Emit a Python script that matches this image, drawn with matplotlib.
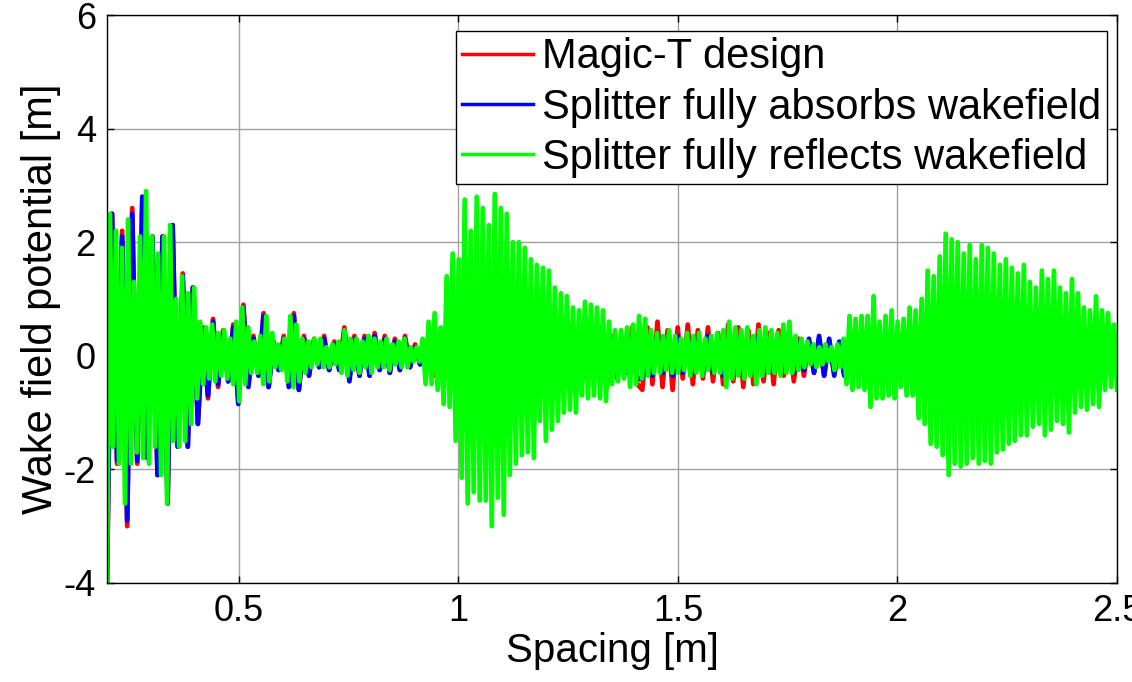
#!/usr/bin/env python3
# -*- coding: utf-8 -*-

import numpy as np
import matplotlib
matplotlib.use('Agg')
import matplotlib.pyplot as plt

params = {'font.family': ['Liberation Sans', 'DejaVu Sans'],
          'font.size': 26,
          'axes.unicode_minus': False,
          'xtick.direction': 'in',
          'ytick.direction': 'in',
          'xtick.top': True,
          'ytick.right': True}
plt.rcParams.update(params)

# Wake potential extrema along the spacing axis (start 0.2 m, end 2.5 m)
x_start, x_end = 0.2, 2.5

magic_t = [
    -4.0, 2.5, -1.9, 2.2, -3.0, 2.6, -1.9, 2.8, -1.8, 2.1, -2.1, 2.1, -2.6, 2.3, -1.6, 1.45,
    -1.6, 1.2, -1.2, 0.5, -0.75, 0.65,
    -0.55, 0.45, -0.45, 0.55, -0.8, 0.9, -0.5, 0.35, -0.35, 0.75, -0.55, 0.25, -0.25, 0.35,
    -0.5, 0.75, -0.6, 0.35, -0.35, 0.3, -0.2, 0.35, -0.25, 0.25, -0.25, 0.5, -0.4, 0.35,
    -0.35, 0.35, -0.35, 0.4, -0.25, 0.35, -0.3, 0.3, -0.25, 0.35, -0.2, 0.2, -0.15, 0.2,
    0.3, -0.35, 0.4, -0.3, 0.35, -0.4, 0.45, -0.3, 0.35, -0.45, 0.4, -0.35, 0.6, -0.55,
    0.3, -0.4, 0.45, -0.3, 0.35, -0.45, 0.4, -0.3, 0.3, -0.35, 0.4, -0.4, 0.35, -0.3,
    0.45, -0.35, 0.3, -0.4, 0.35, -0.3, 0.5, -0.55, 0.35, -0.4, 0.3, -0.3, 0.5, -0.5,
    -0.6, 0.5, -0.5, 0.6, -0.55, 0.45, -0.6, 0.5, -0.4, 0.55, -0.5, 0.45, -0.4, 0.5,
    -0.45, 0.4, -0.5, 0.55, -0.45, 0.5, -0.55, 0.45, -0.5, 0.55, -0.45, 0.4, -0.5, 0.45,
    -0.35, 0.4, -0.45, 0.3, -0.35, 0.25, -0.3, 0.3, -0.35, 0.25, -0.3, 0.2, -0.35, 0.25,
    0.2, -0.35, 0.15, -0.3, 0.1, -0.25, 0.15, -0.3, 0.1, -0.3, 0.15, -0.25, 0.1, -0.3,
    0.15, -0.35, 0.1, -0.3, 0.15, -0.3, 0.1, -0.25, 0.15, -0.3, 0.1, -0.35, 0.15, -0.3,
    0.1, -0.25, 0.15, -0.3, 0.1, -0.35, 0.15, -0.3, 0.1, -0.3, 0.15, -0.25, 0.1, -0.35,
    0.15, -0.3, 0.1, -0.3, 0.15, -0.35, 0.1, -0.3, 0.15, -0.25, 0.1]

absorbs = [
    -4.0, 2.5, -1.85, 2.1, -2.9, 2.5, -1.85, 2.8, -1.8, 2.1, -2.1, 2.1, -2.6, 2.3, -1.6, 1.4,
    -1.6, 1.2, -1.2, 0.45, -0.7, 0.6,
    -0.5, 0.4, -0.45, 0.5, -0.85, 0.85, -0.55, 0.3, -0.35, 0.7, -0.55, 0.2, -0.25, 0.3,
    -0.55, 0.7, -0.6, 0.3, -0.35, 0.25, -0.2, 0.3, -0.25, 0.2, -0.25, 0.45, -0.45, 0.3,
    -0.35, 0.3, -0.35, 0.35, -0.25, 0.3, -0.3, 0.25, -0.25, 0.3, -0.2, 0.15, -0.15, 0.15,
    0.2, -0.25, 0.25, -0.2, 0.25, -0.3, 0.3, -0.2, 0.25, -0.3, 0.25, -0.25, 0.3, -0.3,
    0.2, -0.25, 0.3, -0.2, 0.25, -0.3, 0.25, -0.2, 0.25, -0.25, 0.3, -0.3, 0.25, -0.2,
    0.3, -0.25, 0.2, -0.3, 0.25, -0.25, 0.35, -0.4, 0.3, -0.35, 0.3, -0.3, 0.35, -0.4,
    -0.4, 0.35, -0.35, 0.4, -0.3, 0.3, -0.35, 0.35, -0.3, 0.35, -0.3, 0.3, -0.3, 0.35,
    -0.3, 0.3, -0.35, 0.35, -0.3, 0.3, -0.35, 0.3, -0.3, 0.35, -0.3, 0.25, -0.3, 0.3,
    -0.25, 0.3, -0.3, 0.25, -0.25, 0.3, -0.3, 0.35, -0.35, 0.3, -0.35, 0.25, -0.35, 0.3,
    0.3, -0.2, 0.25, -0.15, 0.3, -0.2, 0.25, -0.15, 0.3, -0.2, 0.25, -0.15, 0.3, -0.2,
    0.3, -0.15, 0.25, -0.2, 0.3, -0.15, 0.25, -0.2, 0.3, -0.15, 0.3, -0.2, 0.25, -0.15,
    0.3, -0.2, 0.25, -0.15, 0.3, -0.2, 0.25, -0.15, 0.3, -0.2, 0.25, -0.15, 0.3, -0.2,
    0.25, -0.15, 0.3, -0.2, 0.25, -0.15, 0.3, -0.2, 0.25, -0.15, 0.2]

reflects = [
    # first ring-down after the gap
    -4.0, 2.5, -1.6, 2.2, -1.9, 1.9, -2.6, 2.4, -1.9, 1.3,
    -1.7, 2.1, -1.8, 2.9, -1.9, 2.1, -1.6, 1.8, -2.1, 2.1,
    -2.6, 2.3, -1.5, 1.0, -1.6, 1.4, -1.5, 1.1, -1.2, 1.2,
    -0.75, 0.6, -0.5, 0.5, -0.4, 0.55, -0.45,
    # quiet stretch up to ~0.93 m
    0.4, -0.35, 0.45, -0.4, 0.3, -0.5, 0.6, -0.8, 0.85, -0.5,
    0.5, -0.3, 0.25, -0.3, 0.35, -0.5, 0.7, -0.45, 0.4, -0.2,
    0.2, -0.25, 0.3, -0.45, 0.7, -0.55, 0.55, -0.45, 0.3, -0.3,
    0.25, -0.2, 0.3, -0.15, 0.3, -0.2, 0.15, -0.2, 0.2, -0.15,
    0.25, -0.3, 0.45, -0.35, 0.3, -0.25, 0.3, -0.3, 0.25, -0.2,
    0.35, -0.3, 0.3, -0.2, 0.25, -0.2, 0.3, -0.25, 0.2, -0.15,
    0.25, -0.2, 0.3, -0.2, 0.15, -0.1, 0.15, -0.1, 0.3,
    # reflected burst around 1.0-1.3 m
    -0.5, 0.6, -0.5, 0.75, -0.6, 0.5, -0.85, 1.4, -0.9, 1.8,
    -1.5, 1.7, -2.15, 2.75, -2.6, 2.2, -2.4, 2.8, -2.55, 2.6,
    -2.55, 2.3, -3.0, 2.85, -2.5, 2.6, -2.8, 2.5, -2.1, 2.0,
    -1.9, 2.0, -1.75, 1.9, -1.7, 1.7, -1.8, 1.6, -1.15, 1.55,
    -1.5, 1.5, -1.3, 1.2, -1.15, 1.1, -1.0, 1.05, -0.95, 0.85,
    -1.0, 0.8, -0.7, 0.95, -0.75, 0.9, -0.7, 0.85, -0.75, 0.8,
    -0.8, 0.6, -0.5, 0.45, -0.45, 0.45, -0.4, 0.5, -0.55, 0.55,
    # middle stretch
    -0.5, 0.7, -0.4, 0.65, -0.35, 0.45, -0.3, 0.4, -0.3, 0.35,
    -0.25, 0.45, -0.3, 0.35, -0.3, 0.3, -0.25, 0.4, -0.35, 0.35,
    -0.3, 0.4, -0.35, 0.3, -0.25, 0.35, -0.3, 0.4, -0.3, 0.45,
    -0.55, 0.6, -0.4, 0.5, -0.35, 0.45, -0.4, 0.5, -0.35, 0.35,
    -0.5, 0.45, -0.35, 0.5, -0.3, 0.45, -0.3, 0.4, -0.35, 0.55,
    -0.3, 0.6, -0.3, 0.35, -0.25, 0.3, -0.2, 0.25, -0.15, 0.2,
    -0.2, 0.15, -0.15, 0.2, -0.1, 0.15, -0.25, 0.2, -0.2,
    # second burst from ~1.9 m
    0.3, -0.5, 0.7, -0.6, 0.65, -0.55, 0.7, -0.6, 0.7, -0.9,
    1.05, -0.75, 0.6, -0.75, 0.7, -0.7, 0.8, -0.75, 0.6, -0.55,
    0.65, -0.7, 0.85, -0.7, 0.8, -1.1, 1.0, -1.2, 1.5, -1.55,
    1.4, -1.6, 1.75, -1.75, 2.15, -2.1, 2.05, -1.9, 2.0, -1.95,
    1.8, -1.9, 1.95, -1.8, 1.7, -1.9, 1.95, -1.85, 1.9, -1.9,
    1.8, -1.7, 1.6, -1.65, 1.7, -1.55, 1.55, -1.5, 1.45, -1.4,
    1.6, -1.4, 1.3, -1.25, 1.2, -1.2, 1.5, -1.4, 1.35, -1.3,
    1.5, -1.15, 1.2, -1.2, 1.1, -1.35, 1.35, -1.0, 1.1, -0.9,
    0.85, -0.95, 0.8, -0.85, 1.05, -0.9, 0.8, -0.6, 0.75, -0.55,
    0.55, -0.6]

labels = ['Magic-T design',
          'Splitter fully absorbs wakefield',
          'Splitter fully reflects wakefield']
colors = ['#ff0000', '#0000ff', '#00ff00']

fig = plt.figure(figsize=(11.32, 6.82), dpi=100)
ax = fig.add_axes([0.0945, 0.1452, 0.8923, 0.8328])

for vals, lab, col in zip([magic_t, absorbs, reflects], labels, colors):
    x = np.linspace(x_start, x_end, len(vals))
    ax.plot(x, vals, color=col, lw=3.4, label=lab)

ax.set_xlim(x_start, x_end)
ax.set_ylim(-4, 6)
ax.set_xticks([0.5, 1, 1.5, 2, 2.5])
ax.set_xticklabels(['0.5', '1', '1.5', '2', '2.5'])
ax.set_yticks([-4, -2, 0, 2, 4, 6])
ax.grid(True, color='#a0a0a0', lw=1.0)
ax.set_axisbelow(True)
ax.tick_params(length=5, width=1, pad=8)
for s in ax.spines.values():
    s.set_linewidth(1.0)

ax.set_xlabel('Spacing [m]', fontsize=29, labelpad=2)
ax.set_ylabel('Wake field potential [m]', fontsize=30, labelpad=2)

leg = ax.legend(loc='upper right', bbox_to_anchor=(0.99, 0.972), fancybox=False,
                edgecolor='black', framealpha=1, handlelength=1.7,
                handletextpad=0.2, borderpad=0.15, labelspacing=0.25,
                borderaxespad=0, fontsize=30)
leg.get_frame().set_linewidth(1.0)
for h in leg.get_lines():
    h.set_linewidth(2.5)

plt.savefig('out.png', dpi=100)
